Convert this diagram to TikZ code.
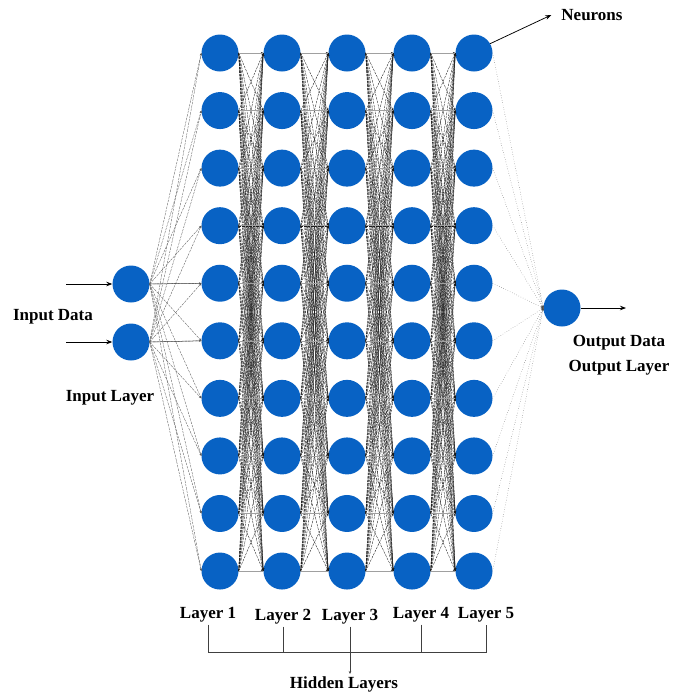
\documentclass[tikz,border=0pt]{standalone}
\usepackage{fontspec}
\setmainfont{Liberation Serif}
\usetikzlibrary{arrows.meta,positioning,calc}
\definecolor{nblue}{HTML}{0862C4}
\definecolor{wire}{HTML}{A0A0A0}
\tikzset{neuron/.style={circle,fill=nblue,inner sep=0pt,minimum size=37pt}, lbl/.style={font=\fontsize{17}{20}\selectfont\bfseries,inner sep=2pt}, link/.style={-{Stealth[length=2.5pt,width=2pt]},line width=.35pt,dash pattern=on 2.5pt off 1pt,draw=black!90}, straight/.style={line width=.5pt,draw=wire}, faint/.style={-{Stealth[length=2.5pt,width=2pt]},line width=.4pt,dotted,draw=black!70}, flow/.style={-{Stealth[length=6pt,width=4.5pt]},line width=.75pt}, brace/.style={line width=.5pt,draw=black!75}}

\begin{document}
\begin{tikzpicture}[x=1pt,y=-1pt]
\useasboundingbox (0,0) rectangle (678,694);
\foreach \l/\x in {1/220,2/282,3/347,4/412,5/474}
  \foreach \r in {1,...,10}
    \node[neuron] (l\l-\r) at (\x,{53+(\r-1)*57.56}) {};
\node[neuron] (in1) at (131,284) {};
\node[neuron] (in2) at (131,342) {};
\node[neuron] (out) at (562,308) {};
\foreach \s in {1,2}
  \foreach \r in {1,...,10}
    \draw[link,draw=black!65] (in\s.east) -- (l1-\r.west);
\draw[straight,draw=black!70] (in1.east) -- (l1-5.west);
\draw[straight,draw=black!70] (in2.east) -- (l1-6.west);
\foreach \l [evaluate=\l as \n using int(\l+1)] in {1,...,4}
  \foreach \a in {1,...,10}
    \foreach \b in {1,...,10}
      \draw[link] (l\l-\a.east) -- (l\n-\b.west);
\foreach \l [evaluate=\l as \n using int(\l+1)] in {1,...,4}
  \foreach \a in {1,...,10}
    \draw[straight] (l\l-\a.east) -- (l\n-\a.west);
\foreach \r in {1,...,10}
  \draw[faint] (l5-\r.east) -- (out.west);
\node[lbl] (indata) at (53,317) {Input Data};
\node[lbl] (inlayer) at (110,398) {Input Layer};
\node[lbl] (outdata) at (619,343) {Output Data};
\node[lbl] (outlayer) at (619,368) {Output Layer};
\node[lbl] (neur) at (592,15) {Neurons};
\coordinate (src1) at (66,284);
\coordinate (src2) at (66,342);
\coordinate (snk) at (626,308);
\draw[flow] (src1) -- (in1.west);
\draw[flow] (src2) -- (in2.west);
\draw[flow] (out.east) -- (snk);
\draw[flow] (l5-1.30) -- ([xshift=-8pt]neur.west);
\node[lbl] (lab1) at (208,615) {Layer 1};
\node[lbl] (lab2) at (283,617) {Layer 2};
\node[lbl] (lab3) at (350,617) {Layer 3};
\node[lbl] (lab4) at (421,615) {Layer 4};
\node[lbl] (lab5) at (486,615) {Layer 5};
\node[lbl,anchor=base] (hid) at (344,688) {Hidden Layers};
\coordinate (brk) at (349,652);
\draw[brace] (lab1.south) -- (lab1.south |- brk) -- (lab5.south |- brk) -- (lab5.south);
\draw[brace] (lab2.south) -- (lab2.south |- brk);
\draw[brace] (lab4.south) -- (lab4.south |- brk);
\draw[brace,-{Stealth[length=3pt,width=2.5pt]}] (lab3.south) -- (lab3.south |- hid.north);
\end{tikzpicture}
\end{document}
